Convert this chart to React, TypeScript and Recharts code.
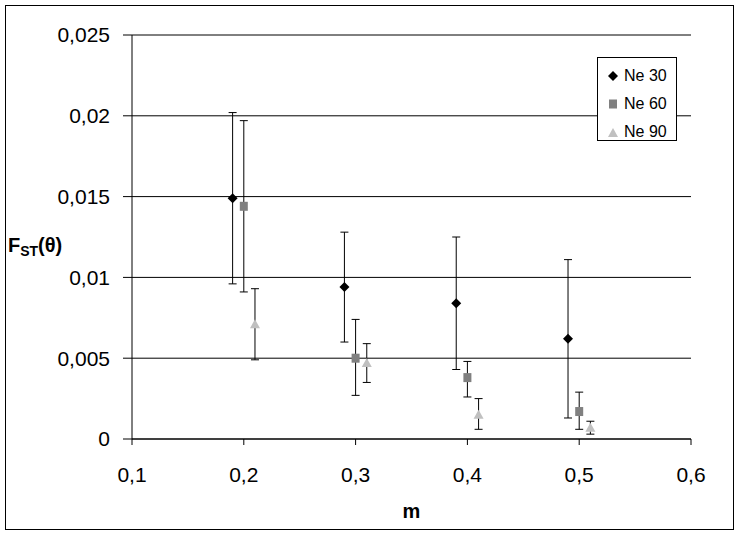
import React from 'react';
import {
  ScatterChart,
  Scatter,
  XAxis,
  YAxis,
  CartesianGrid,
  ErrorBar,
  Legend
} from 'recharts';

document.body.style.margin = '0';

const FONT = '"Liberation Sans", Arial, sans-serif';

// m values per series (slightly offset so the bars do not overlap)
const m30 = [0.19, 0.29, 0.39, 0.49];
const m60 = [0.2, 0.3, 0.4, 0.5];
const m90 = [0.21, 0.31, 0.41, 0.51];

// FST(θ) estimates with confidence bounds
const ne30 = [0.0149, 0.0094, 0.0084, 0.0062];
const ne30Low = [0.0096, 0.006, 0.0043, 0.0013];
const ne30High = [0.0202, 0.0128, 0.0125, 0.0111];

const ne60 = [0.0144, 0.005, 0.0038, 0.0017];
const ne60Low = [0.0091, 0.0027, 0.0026, 0.0006];
const ne60High = [0.0197, 0.0074, 0.0048, 0.0029];

const ne90 = [0.0071, 0.0047, 0.0015, 0.0007];
const ne90Low = [0.0049, 0.0035, 0.0006, 0.0003];
const ne90High = [0.0093, 0.0059, 0.0025, 0.0011];

const xTicks = [0.1, 0.2, 0.3, 0.4, 0.5, 0.6];
const yTicks = [0, 0.005, 0.01, 0.015, 0.02, 0.025];

const COLORS = {
  ne30: '#000000',
  ne60: '#808080',
  ne90: '#c0c0c0'
};

const build = (m: number[], v: number[], lo: number[], hi: number[]) =>
  m.map((x, i) => ({ m: x, v: v[i], err: [v[i] - lo[i], hi[i] - v[i]] }));

const data30 = build(m30, ne30, ne30Low, ne30High);
const data60 = build(m60, ne60, ne60Low, ne60High);
const data90 = build(m90, ne90, ne90Low, ne90High);

const comma = (v: number) => String(v).replace('.', ',');

const Diamond = ({ cx, cy, fill }: any) => (
  <path d={`M${cx},${cy - 5}L${cx + 5},${cy}L${cx},${cy + 5}L${cx - 5},${cy}Z`} fill={fill} />
);
const Square = ({ cx, cy, fill }: any) => (
  <rect x={cx - 4} y={cy - 4.5} width={8} height={9} fill={fill} />
);
const Triangle = ({ cx, cy, fill }: any) => (
  <path d={`M${cx},${cy - 5}L${cx + 5},${cy + 4}L${cx - 5},${cy + 4}Z`} fill={fill} />
);

const legendItems = [
  { name: 'Ne 30', color: COLORS.ne30, shape: 'diamond' },
  { name: 'Ne 60', color: COLORS.ne60, shape: 'square' },
  { name: 'Ne 90', color: COLORS.ne90, shape: 'triangle' }
];

const LegendBox = () => (
  <div
    style={{
      width: 80,
      height: 84,
      border: '1px solid #000',
      background: '#fff',
      fontFamily: FONT,
      fontSize: 16,
      color: '#000',
      boxSizing: 'border-box',
      paddingTop: 4
    }}
  >
    {legendItems.map((it) => (
      <div key={it.name} style={{ height: 28, display: 'flex', alignItems: 'center' }}>
        <svg width={24} height={14} style={{ flex: 'none' }}>
          {it.shape === 'diamond' && <Diamond cx={15} cy={7} fill={it.color} />}
          {it.shape === 'square' && <Square cx={15} cy={7} fill={it.color} />}
          {it.shape === 'triangle' && <Triangle cx={15} cy={8} fill={it.color} />}
        </svg>
        <span style={{ marginLeft: 2 }}>{it.name}</span>
      </div>
    ))}
  </div>
);

const YTitle = () => (
  <text x={8} y={252} fontFamily={FONT} fontWeight="bold" fontSize={20} fill="#000">
    F
    <tspan fontSize={14} dy={4}>ST</tspan>
    <tspan dy={-4}>(θ)</tspan>
  </text>
);

export default function App() {
  return (
    <div style={{ position: 'relative', width: 742, height: 538, background: '#fff' }}>
      <div
        style={{
          position: 'absolute',
          left: 5,
          top: 5,
          width: 729,
          height: 525,
          border: '1px solid #000',
          boxSizing: 'border-box',
          pointerEvents: 'none'
        }}
      />
      <ScatterChart
        width={742}
        height={538}
        margin={{ top: 35, right: 51, left: 0, bottom: 0 }}
        style={{ fontFamily: FONT }}
      >
        <CartesianGrid horizontal vertical={false} stroke="#000" strokeWidth={1} />
        <XAxis
          type="number"
          dataKey="m"
          domain={[0.1, 0.6]}
          ticks={xTicks}
          tickFormatter={comma}
          height={99}
          stroke="#000"
          tickSize={6}
          tickMargin={22}
          tick={{ fill: '#000', fontSize: 21, fontFamily: FONT }}
          label={{
            value: 'm',
            position: 'insideBottom',
            offset: 20,
            style: { fontFamily: FONT, fontWeight: 'bold', fontSize: 20, fill: '#000' }
          }}
        />
        <YAxis
          type="number"
          dataKey="v"
          domain={[0, 0.025]}
          ticks={yTicks}
          tickFormatter={comma}
          width={132}
          stroke="#000"
          tickSize={9}
          tickMargin={13}
          tick={{ fill: '#000', fontSize: 21, fontFamily: FONT }}
          label={{ content: <YTitle /> }}
        />
        <Legend
          layout="vertical"
          align="center"
          verticalAlign="middle"
          content={<LegendBox />}
          wrapperStyle={{ left: 597, top: 57, width: 80 }}
        />
        <Scatter name="Ne 30" data={data30} fill={COLORS.ne30} shape={<Diamond />} isAnimationActive={false}>
          <ErrorBar dataKey="err" direction="y" width={4} stroke="#000" strokeWidth={1} isAnimationActive={false} />
        </Scatter>
        <Scatter name="Ne 60" data={data60} fill={COLORS.ne60} shape={<Square />} isAnimationActive={false}>
          <ErrorBar dataKey="err" direction="y" width={4} stroke="#000" strokeWidth={1} isAnimationActive={false} />
        </Scatter>
        <Scatter name="Ne 90" data={data90} fill={COLORS.ne90} shape={<Triangle />} isAnimationActive={false}>
          <ErrorBar dataKey="err" direction="y" width={4} stroke="#000" strokeWidth={1} isAnimationActive={false} />
        </Scatter>
      </ScatterChart>
    </div>
  );
}
